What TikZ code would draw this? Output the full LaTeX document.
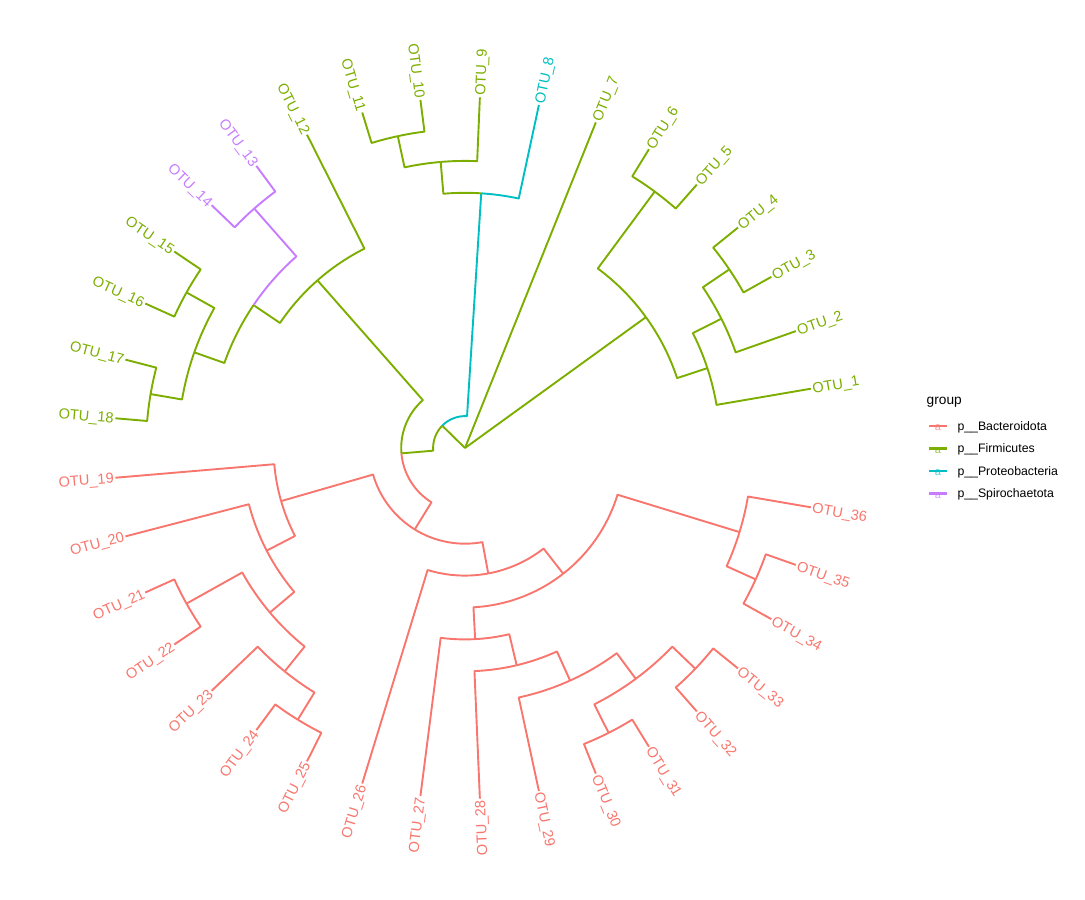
\documentclass[tikz,border=0pt]{standalone}
\usepackage{fontspec}
\setmainfont{Liberation Sans}
\usepackage{tikz}
\definecolor{bactcol}{HTML}{F8766D}
\definecolor{firmcol}{HTML}{7CAE00}
\definecolor{protcol}{HTML}{00BFC4}
\definecolor{spircol}{HTML}{C77CFF}

\begin{document}
\begin{tikzpicture}[line join=round,
  bact/.style={draw=bactcol,line width=1.9pt},
  firm/.style={draw=firmcol,line width=1.9pt},
  prot/.style={draw=protcol,line width=1.9pt},
  spir/.style={draw=spircol,line width=1.9pt},
  tipr/.style={anchor=west,inner sep=1.5pt,text depth=0pt,font=\fontsize{14.6}{16}\selectfont},
  tipl/.style={anchor=east,inner sep=1.5pt,text depth=0pt,font=\fontsize{14.6}{16}\selectfont},
  leglab/.style={anchor=base west,inner sep=0pt,font=\fontsize{12.3}{14}\selectfont},
  keya/.style={inner sep=0pt,font=\fontsize{11}{12}\selectfont}]
\useasboundingbox (0pt,0pt) rectangle (1085pt,-900pt);
\begin{scope}[shift={(465pt,-448pt)}]
%% tips
  \coordinate (t1) at (9.73:350.9pt);
  \coordinate (t2) at (19.46:350.9pt);
  \coordinate (t3) at (29.19:350.9pt);
  \coordinate (t4) at (38.92:350.9pt);
  \coordinate (t5) at (48.65:350.9pt);
  \coordinate (t6) at (58.38:350.9pt);
  \coordinate (t7) at (68.11:350.9pt);
  \coordinate (t8) at (77.84:350.9pt);
  \coordinate (t9) at (87.57:350.9pt);
  \coordinate (t10) at (97.30:350.9pt);
  \coordinate (t11) at (107.03:350.9pt);
  \coordinate (t12) at (116.76:350.9pt);
  \coordinate (t13) at (126.49:350.9pt);
  \coordinate (t14) at (136.22:350.9pt);
  \coordinate (t15) at (145.95:350.9pt);
  \coordinate (t16) at (155.68:350.9pt);
  \coordinate (t17) at (165.41:350.9pt);
  \coordinate (t18) at (175.14:350.9pt);
  \coordinate (t19) at (184.86:350.9pt);
  \coordinate (t20) at (194.59:350.9pt);
  \coordinate (t21) at (204.32:350.9pt);
  \coordinate (t22) at (214.05:350.9pt);
  \coordinate (t23) at (223.78:350.9pt);
  \coordinate (t24) at (233.51:350.9pt);
  \coordinate (t25) at (243.24:350.9pt);
  \coordinate (t26) at (252.97:350.9pt);
  \coordinate (t27) at (262.70:350.9pt);
  \coordinate (t28) at (272.43:350.9pt);
  \coordinate (t29) at (282.16:350.9pt);
  \coordinate (t30) at (291.89:350.9pt);
  \coordinate (t31) at (301.62:350.9pt);
  \coordinate (t32) at (311.35:350.9pt);
  \coordinate (t33) at (321.08:350.9pt);
  \coordinate (t34) at (330.81:350.9pt);
  \coordinate (t35) at (340.54:350.9pt);
  \coordinate (t36) at (350.27:350.9pt);
%% inner nodes
  \coordinate (root) at (0pt,0pt);
  \coordinate (n1to6) at (35.88:223.3pt);
  \coordinate (n1to4) at (18.24:255.2pt);
  \coordinate (n2to4) at (26.76:287.1pt);
  \coordinate (n3to4) at (34.05:319pt);
  \coordinate (n5to6) at (53.51:319pt);
  \coordinate (n8to36) at (135.59:31.9pt);
  \coordinate (n8to11) at (86.35:255.2pt);
  \coordinate (n9to11) at (94.86:287.1pt);
  \coordinate (n10to11) at (102.16:319pt);
  \coordinate (n12to36) at (184.83:63.8pt);
  \coordinate (n12to18) at (131.35:223.3pt);
  \coordinate (n13to18) at (145.95:255.2pt);
  \coordinate (n13to14) at (131.35:319pt);
  \coordinate (n15to18) at (160.54:287.1pt);
  \coordinate (n15to16) at (150.81:319pt);
  \coordinate (n17to18) at (170.27:319pt);
  \coordinate (n19to36) at (238.30:95.7pt);
  \coordinate (n19to25) at (196.11:191.4pt);
  \coordinate (n20to25) at (207.36:223.3pt);
  \coordinate (n21to25) at (220.14:255.2pt);
  \coordinate (n21to22) at (209.19:319pt);
  \coordinate (n23to25) at (231.08:287.1pt);
  \coordinate (n24to25) at (238.38:319pt);
  \coordinate (n26to36) at (280.49:127.6pt);
  \coordinate (n27to36) at (308.00:159.5pt);
  \coordinate (n27to33) at (273.04:191.4pt);
  \coordinate (n28to33) at (283.38:223.3pt);
  \coordinate (n29to33) at (294.32:255.2pt);
  \coordinate (n30to33) at (306.49:287.1pt);
  \coordinate (n30to31) at (296.76:319pt);
  \coordinate (n32to33) at (316.22:319pt);
  \coordinate (n34to36) at (342.97:287.1pt);
  \coordinate (n34to35) at (335.68:319pt);
%% branches
  \draw [firm] (root) -- (n1to6);
  \draw [firm] (root) -- (t7);
  \draw [firm] (root) -- (n8to36);
  \draw [firm] (n1to6) arc[start angle=35.88, end angle=18.24, radius=223.3pt] -- (n1to4);
  \draw [firm] (n1to6) arc[start angle=35.88, end angle=53.51, radius=223.3pt] -- (n5to6);
  \draw [firm] (n1to4) arc[start angle=18.24, end angle=9.73, radius=255.2pt] -- (t1);
  \draw [firm] (n1to4) arc[start angle=18.24, end angle=26.76, radius=255.2pt] -- (n2to4);
  \draw [firm] (n2to4) arc[start angle=26.76, end angle=19.46, radius=287.1pt] -- (t2);
  \draw [firm] (n2to4) arc[start angle=26.76, end angle=34.05, radius=287.1pt] -- (n3to4);
  \draw [firm] (n3to4) arc[start angle=34.05, end angle=29.19, radius=319pt] -- (t3);
  \draw [firm] (n3to4) arc[start angle=34.05, end angle=38.92, radius=319pt] -- (t4);
  \draw [firm] (n5to6) arc[start angle=53.51, end angle=48.65, radius=319pt] -- (t5);
  \draw [firm] (n5to6) arc[start angle=53.51, end angle=58.38, radius=319pt] -- (t6);
  \draw [prot] (n8to36) arc[start angle=135.59, end angle=86.35, radius=31.9pt] -- (n8to11);
  \draw [firm] (n8to36) arc[start angle=135.59, end angle=184.83, radius=31.9pt] -- (n12to36);
  \draw [prot] (n8to11) arc[start angle=86.35, end angle=77.84, radius=255.2pt] -- (t8);
  \draw [firm] (n8to11) arc[start angle=86.35, end angle=94.86, radius=255.2pt] -- (n9to11);
  \draw [firm] (n9to11) arc[start angle=94.86, end angle=87.57, radius=287.1pt] -- (t9);
  \draw [firm] (n9to11) arc[start angle=94.86, end angle=102.16, radius=287.1pt] -- (n10to11);
  \draw [firm] (n10to11) arc[start angle=102.16, end angle=97.30, radius=319pt] -- (t10);
  \draw [firm] (n10to11) arc[start angle=102.16, end angle=107.03, radius=319pt] -- (t11);
  \draw [firm] (n12to36) arc[start angle=184.83, end angle=131.35, radius=63.8pt] -- (n12to18);
  \draw [bact] (n12to36) arc[start angle=184.83, end angle=238.30, radius=63.8pt] -- (n19to36);
  \draw [firm] (n12to18) arc[start angle=131.35, end angle=116.76, radius=223.3pt] -- (t12);
  \draw [firm] (n12to18) arc[start angle=131.35, end angle=145.95, radius=223.3pt] -- (n13to18);
  \draw [spir] (n13to18) arc[start angle=145.95, end angle=131.35, radius=255.2pt] -- (n13to14);
  \draw [firm] (n13to18) arc[start angle=145.95, end angle=160.54, radius=255.2pt] -- (n15to18);
  \draw [spir] (n13to14) arc[start angle=131.35, end angle=126.49, radius=319pt] -- (t13);
  \draw [spir] (n13to14) arc[start angle=131.35, end angle=136.22, radius=319pt] -- (t14);
  \draw [firm] (n15to18) arc[start angle=160.54, end angle=150.81, radius=287.1pt] -- (n15to16);
  \draw [firm] (n15to18) arc[start angle=160.54, end angle=170.27, radius=287.1pt] -- (n17to18);
  \draw [firm] (n15to16) arc[start angle=150.81, end angle=145.95, radius=319pt] -- (t15);
  \draw [firm] (n15to16) arc[start angle=150.81, end angle=155.68, radius=319pt] -- (t16);
  \draw [firm] (n17to18) arc[start angle=170.27, end angle=165.41, radius=319pt] -- (t17);
  \draw [firm] (n17to18) arc[start angle=170.27, end angle=175.14, radius=319pt] -- (t18);
  \draw [bact] (n19to36) arc[start angle=238.30, end angle=196.11, radius=95.7pt] -- (n19to25);
  \draw [bact] (n19to36) arc[start angle=238.30, end angle=280.49, radius=95.7pt] -- (n26to36);
  \draw [bact] (n19to25) arc[start angle=196.11, end angle=184.86, radius=191.4pt] -- (t19);
  \draw [bact] (n19to25) arc[start angle=196.11, end angle=207.36, radius=191.4pt] -- (n20to25);
  \draw [bact] (n20to25) arc[start angle=207.36, end angle=194.59, radius=223.3pt] -- (t20);
  \draw [bact] (n20to25) arc[start angle=207.36, end angle=220.14, radius=223.3pt] -- (n21to25);
  \draw [bact] (n21to25) arc[start angle=220.14, end angle=209.19, radius=255.2pt] -- (n21to22);
  \draw [bact] (n21to25) arc[start angle=220.14, end angle=231.08, radius=255.2pt] -- (n23to25);
  \draw [bact] (n21to22) arc[start angle=209.19, end angle=204.32, radius=319pt] -- (t21);
  \draw [bact] (n21to22) arc[start angle=209.19, end angle=214.05, radius=319pt] -- (t22);
  \draw [bact] (n23to25) arc[start angle=231.08, end angle=223.78, radius=287.1pt] -- (t23);
  \draw [bact] (n23to25) arc[start angle=231.08, end angle=238.38, radius=287.1pt] -- (n24to25);
  \draw [bact] (n24to25) arc[start angle=238.38, end angle=233.51, radius=319pt] -- (t24);
  \draw [bact] (n24to25) arc[start angle=238.38, end angle=243.24, radius=319pt] -- (t25);
  \draw [bact] (n26to36) arc[start angle=280.49, end angle=252.97, radius=127.6pt] -- (t26);
  \draw [bact] (n26to36) arc[start angle=280.49, end angle=308.00, radius=127.6pt] -- (n27to36);
  \draw [bact] (n27to36) arc[start angle=308.00, end angle=273.04, radius=159.5pt] -- (n27to33);
  \draw [bact] (n27to36) arc[start angle=308.00, end angle=342.97, radius=159.5pt] -- (n34to36);
  \draw [bact] (n27to33) arc[start angle=273.04, end angle=262.70, radius=191.4pt] -- (t27);
  \draw [bact] (n27to33) arc[start angle=273.04, end angle=283.38, radius=191.4pt] -- (n28to33);
  \draw [bact] (n28to33) arc[start angle=283.38, end angle=272.43, radius=223.3pt] -- (t28);
  \draw [bact] (n28to33) arc[start angle=283.38, end angle=294.32, radius=223.3pt] -- (n29to33);
  \draw [bact] (n29to33) arc[start angle=294.32, end angle=282.16, radius=255.2pt] -- (t29);
  \draw [bact] (n29to33) arc[start angle=294.32, end angle=306.49, radius=255.2pt] -- (n30to33);
  \draw [bact] (n30to33) arc[start angle=306.49, end angle=296.76, radius=287.1pt] -- (n30to31);
  \draw [bact] (n30to33) arc[start angle=306.49, end angle=316.22, radius=287.1pt] -- (n32to33);
  \draw [bact] (n30to31) arc[start angle=296.76, end angle=291.89, radius=319pt] -- (t30);
  \draw [bact] (n30to31) arc[start angle=296.76, end angle=301.62, radius=319pt] -- (t31);
  \draw [bact] (n32to33) arc[start angle=316.22, end angle=311.35, radius=319pt] -- (t32);
  \draw [bact] (n32to33) arc[start angle=316.22, end angle=321.08, radius=319pt] -- (t33);
  \draw [bact] (n34to36) arc[start angle=342.97, end angle=335.68, radius=287.1pt] -- (n34to35);
  \draw [bact] (n34to36) arc[start angle=342.97, end angle=350.27, radius=287.1pt] -- (t36);
  \draw [bact] (n34to35) arc[start angle=335.68, end angle=330.81, radius=319pt] -- (t34);
  \draw [bact] (n34to35) arc[start angle=335.68, end angle=340.54, radius=319pt] -- (t35);
%% tip labels
  \node (l1) at (t1) [tipr,text=firmcol,rotate=9.73] {OTU\_1};
  \node (l2) at (t2) [tipr,text=firmcol,rotate=19.46] {OTU\_2};
  \node (l3) at (t3) [tipr,text=firmcol,rotate=29.19] {OTU\_3};
  \node (l4) at (t4) [tipr,text=firmcol,rotate=38.92] {OTU\_4};
  \node (l5) at (t5) [tipr,text=firmcol,rotate=48.65] {OTU\_5};
  \node (l6) at (t6) [tipr,text=firmcol,rotate=58.38] {OTU\_6};
  \node (l7) at (t7) [tipr,text=firmcol,rotate=68.11] {OTU\_7};
  \node (l8) at (t8) [tipr,text=protcol,rotate=77.84] {OTU\_8};
  \node (l9) at (t9) [tipr,text=firmcol,rotate=87.57] {OTU\_9};
  \node (l10) at (t10) [tipl,text=firmcol,rotate=-82.70] {OTU\_10};
  \node (l11) at (t11) [tipl,text=firmcol,rotate=-72.97] {OTU\_11};
  \node (l12) at (t12) [tipl,text=firmcol,rotate=-63.24] {OTU\_12};
  \node (l13) at (t13) [tipl,text=spircol,rotate=-53.51] {OTU\_13};
  \node (l14) at (t14) [tipl,text=spircol,rotate=-43.78] {OTU\_14};
  \node (l15) at (t15) [tipl,text=firmcol,rotate=-34.05] {OTU\_15};
  \node (l16) at (t16) [tipl,text=firmcol,rotate=-24.32] {OTU\_16};
  \node (l17) at (t17) [tipl,text=firmcol,rotate=-14.59] {OTU\_17};
  \node (l18) at (t18) [tipl,text=firmcol,rotate=-4.86] {OTU\_18};
  \node (l19) at (t19) [tipl,text=bactcol,rotate=4.86] {OTU\_19};
  \node (l20) at (t20) [tipl,text=bactcol,rotate=14.59] {OTU\_20};
  \node (l21) at (t21) [tipl,text=bactcol,rotate=24.32] {OTU\_21};
  \node (l22) at (t22) [tipl,text=bactcol,rotate=34.05] {OTU\_22};
  \node (l23) at (t23) [tipl,text=bactcol,rotate=43.78] {OTU\_23};
  \node (l24) at (t24) [tipl,text=bactcol,rotate=53.51] {OTU\_24};
  \node (l25) at (t25) [tipl,text=bactcol,rotate=63.24] {OTU\_25};
  \node (l26) at (t26) [tipl,text=bactcol,rotate=72.97] {OTU\_26};
  \node (l27) at (t27) [tipl,text=bactcol,rotate=82.70] {OTU\_27};
  \node (l28) at (t28) [tipl,text=bactcol,rotate=92.43] {OTU\_28};
  \node (l29) at (t29) [tipr,text=bactcol,rotate=282.16] {OTU\_29};
  \node (l30) at (t30) [tipr,text=bactcol,rotate=291.89] {OTU\_30};
  \node (l31) at (t31) [tipr,text=bactcol,rotate=301.62] {OTU\_31};
  \node (l32) at (t32) [tipr,text=bactcol,rotate=311.35] {OTU\_32};
  \node (l33) at (t33) [tipr,text=bactcol,rotate=321.08] {OTU\_33};
  \node (l34) at (t34) [tipr,text=bactcol,rotate=330.81] {OTU\_34};
  \node (l35) at (t35) [tipr,text=bactcol,rotate=340.54] {OTU\_35};
  \node (l36) at (t36) [tipr,text=bactcol,rotate=350.27] {OTU\_36};
\end{scope}
%% legend
\node (legtitle) at (926.5pt,-404.5pt) [anchor=base west,inner sep=0pt,font=\fontsize{13.7}{15}\selectfont] {group};
  \coordinate (kb1) at (929pt,-426pt);
  \coordinate (kb2) at (947pt,-426pt);
  \coordinate (kf1) at (929pt,-448.5pt);
  \coordinate (kf2) at (947pt,-448.5pt);
  \coordinate (kp1) at (929pt,-471pt);
  \coordinate (kp2) at (947pt,-471pt);
  \coordinate (ks1) at (929pt,-493.5pt);
  \coordinate (ks2) at (947pt,-493.5pt);
  \node (ab) at (938pt,-428pt) [keya,text=bactcol!70] {a};
  \node (af) at (938pt,-450.5pt) [keya,text=firmcol!70] {a};
  \node (ap) at (938pt,-473pt) [keya,text=protcol!70] {a};
  \node (as) at (938pt,-495.5pt) [keya,text=spircol!70] {a};
  \draw [bact,line width=2.2pt] (kb1) -- (kb2);
  \draw [firm,line width=2.2pt] (kf1) -- (kf2);
  \draw [prot,line width=2.2pt] (kp1) -- (kp2);
  \draw [spir,line width=2.2pt] (ks1) -- (ks2);
  \node (lb) at (957.3pt,-430.3pt) [leglab] {p\_\_Bacteroidota};
  \node (lf) at (957.3pt,-452.8pt) [leglab] {p\_\_Firmicutes};
  \node (lp) at (957.3pt,-475.3pt) [leglab] {p\_\_Proteobacteria};
  \node (ls) at (957.3pt,-497.8pt) [leglab] {p\_\_Spirochaetota};
%
\end{tikzpicture}
\end{document}
